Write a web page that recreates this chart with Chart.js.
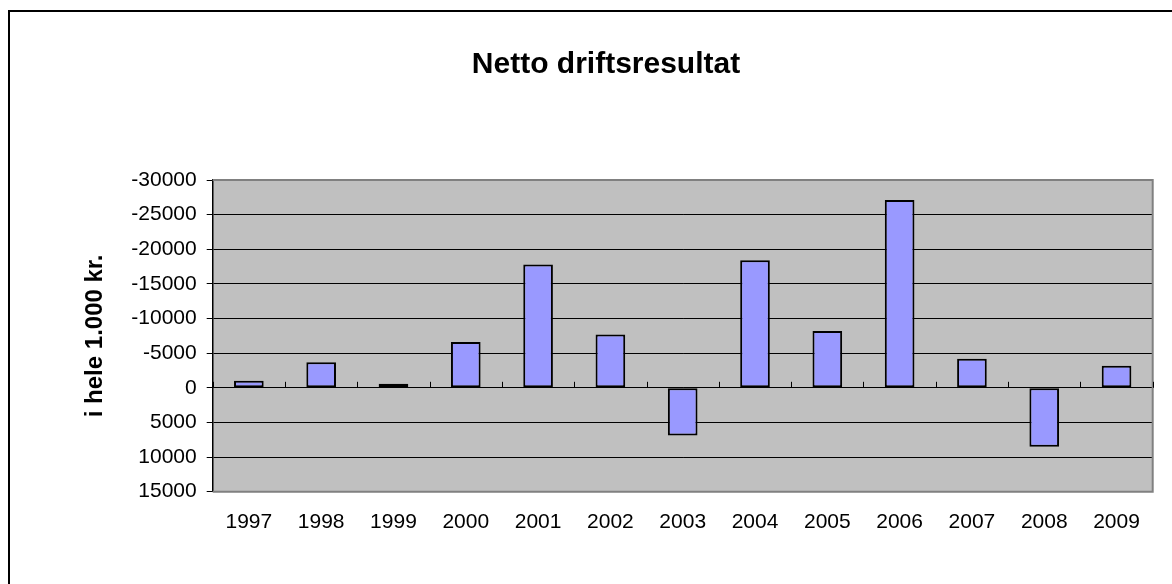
<!DOCTYPE html>
<html>
<head>
<meta charset="utf-8">
<script src="https://cdn.jsdelivr.net/npm/chart.js@4"></script>
<style>
    html, body { margin: 0; padding: 0; background: #fff; overflow: hidden; }
    #wrap { position: absolute; left: 0; top: 0; width: 1172px; height: 584px; }
    #frame { position: absolute; left: 8px; top: 10px; width: 1200px; height: 620px; border: 2px solid #000; pointer-events: none; }
</style>
</head>
<body>
<div id="wrap"><canvas id="chart"></canvas></div>
<div id="frame"></div>
<script>
const years = ['1997', '1998', '1999', '2000', '2001', '2002', '2003', '2004', '2005', '2006', '2007', '2008', '2009'];
const nettoResultat = [-1000, -3700, -600, -6600, -17800, -7700, 6900, -18400, -8200, -27100, -4200, 8500, -3200];
const yTicks = [-30000, -25000, -20000, -15000, -10000, -5000, 0, 5000, 10000, 15000];

const FONT = "'Liberation Sans', Arial, sans-serif";

// grey plot background and grey frame round the plot area
const plotArea = {
    id: 'plotArea',
    beforeDraw(chart) {
        const { ctx, chartArea: a } = chart;
        ctx.save();
        ctx.fillStyle = '#c0c0c0';
        ctx.fillRect(a.left, a.top, a.right - a.left, a.bottom - a.top);
        ctx.restore();
    },
    afterDatasetsDraw(chart) {
        const { ctx, chartArea: a, scales } = chart;
        ctx.save();
        ctx.strokeStyle = '#808080';
        ctx.lineWidth = 2;
        ctx.beginPath();
        ctx.moveTo(a.left, a.top);
        ctx.lineTo(a.right, a.top);
        ctx.lineTo(a.right, a.bottom);
        ctx.lineTo(a.left, a.bottom);
        ctx.stroke();
        // category tick marks sitting on the zero line
        const y0 = scales.y.getPixelForValue(0);
        ctx.strokeStyle = '#000';
        ctx.lineWidth = 1;
        ctx.beginPath();
        for (let i = 0; i <= years.length; i++) {
            const x = Math.round(scales.x.getPixelForValue(i - 0.5)) + 0.5;
            ctx.moveTo(x, y0);
            ctx.lineTo(x, y0 - 6);
        }
        ctx.stroke();
        ctx.restore();
    }
};

new Chart(document.getElementById('chart'), {
    type: 'bar',
    data: {
        labels: years,
        datasets: [{
            label: 'Netto driftsresultat',
            data: nettoResultat,
            backgroundColor: '#9999ff',
            borderColor: '#000',
            borderWidth: 2,
            borderSkipped: false,
            barPercentage: 0.41,
            categoryPercentage: 1
        }]
    },
    options: {
        responsive: true,
        maintainAspectRatio: false,
        animation: false,
        layout: { padding: { left: 59.3, right: 19.3, top: 0, bottom: 0 } },
        plugins: {
            legend: { display: false },
            tooltip: { enabled: false },
            title: {
                display: true,
                text: 'Netto driftsresultat',
                color: '#000',
                font: { family: FONT, size: 30, weight: 'bold' },
                padding: { top: 47, bottom: 97 }
            }
        },
        scales: {
            x: {
                grid: { display: false, drawTicks: false },
                border: { display: false },
                ticks: { color: '#000', padding: 18, font: { family: FONT, size: 21 }, maxRotation: 0 },
                afterFit(scale) { scale.height = 92.3; }
            },
            y: {
                reverse: true,
                min: -30000,
                max: 15000,
                afterBuildTicks(scale) { scale.ticks = yTicks.map(v => ({ value: v })); },
                grid: { color: '#000', lineWidth: 1, tickLength: 6 },
                border: { color: '#000', width: 1.5 },
                ticks: {
                    color: '#000',
                    padding: 10,
                    font: { family: FONT, size: 21 },
                    callback: v => String(v)
                },
                title: {
                    display: true,
                    text: 'i hele 1.000 kr.',
                    color: '#000',
                    font: { family: FONT, size: 24, weight: 'bold' },
                    padding: { top: 22, bottom: 0 }
                },
                afterFit(scale) { scale.width = 153.4; }
            }
        }
    },
    plugins: [plotArea]
});
</script>
</body>
</html>
